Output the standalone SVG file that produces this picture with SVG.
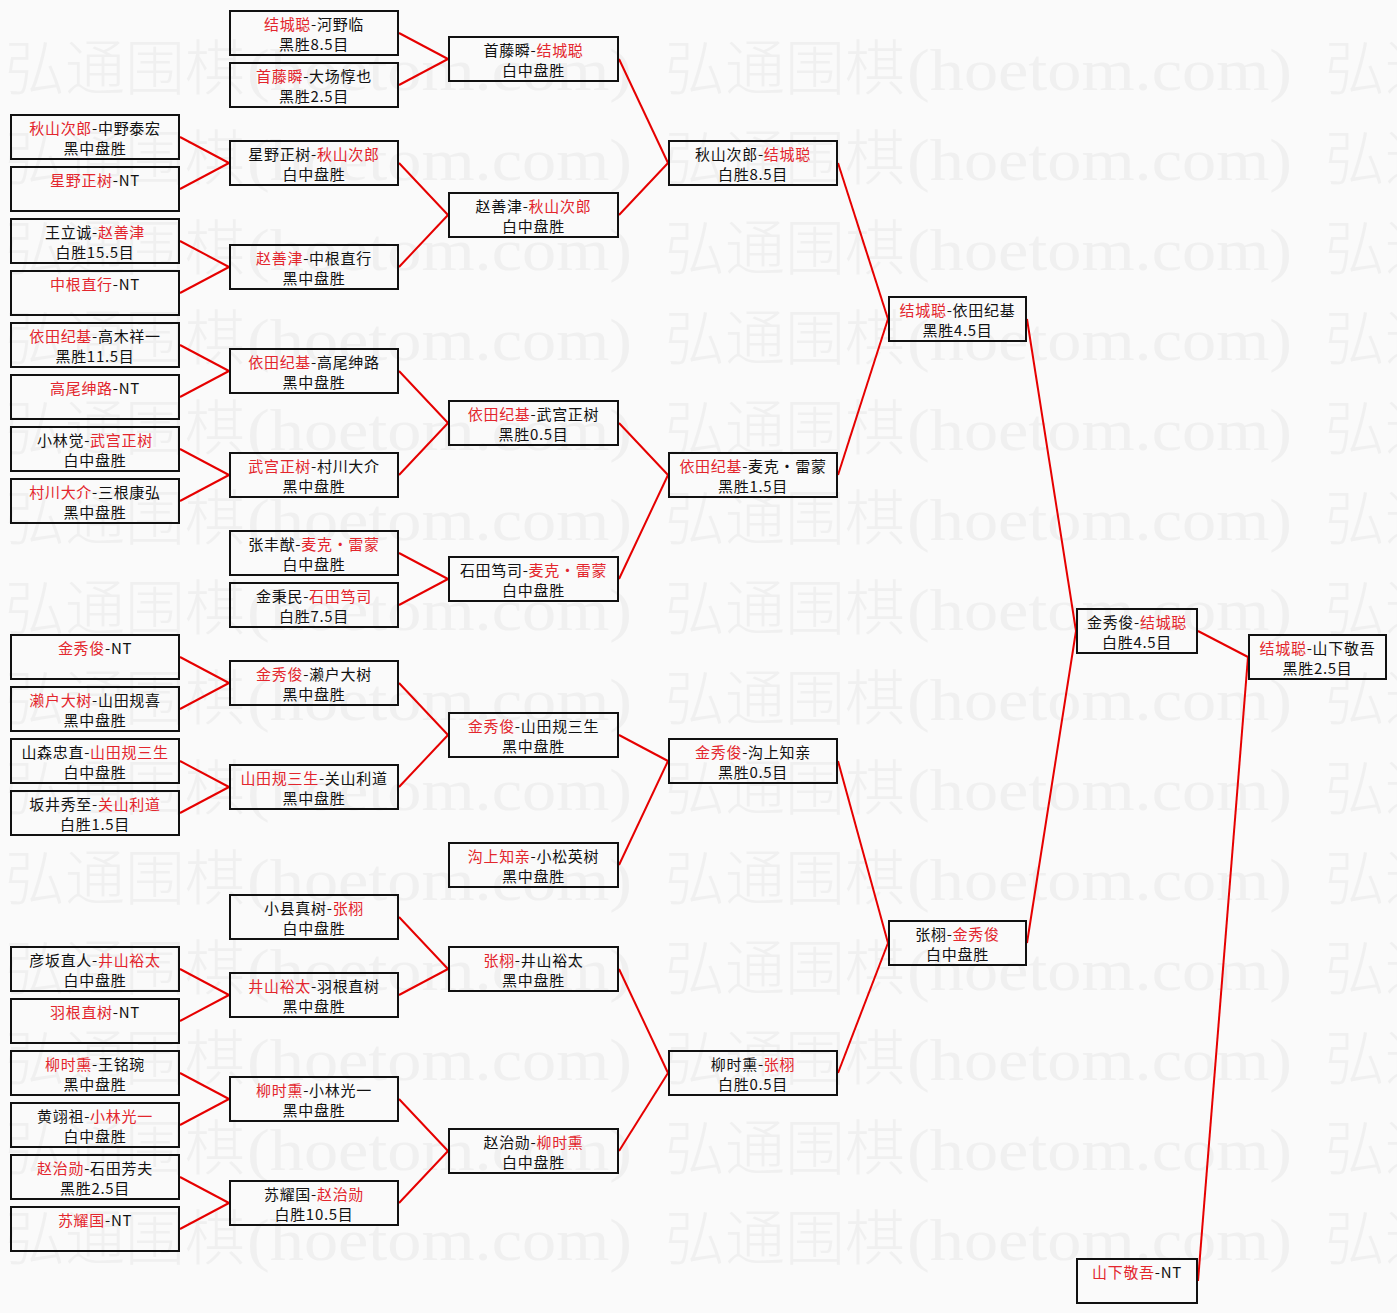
<svg xmlns="http://www.w3.org/2000/svg" width="1397" height="1313" viewBox="0 0 1397 1313">
<style>
.bg{fill:#fafafa}
.wmt{font-family:"Liberation Serif","Noto Sans CJK SC",serif;font-size:60px;font-weight:300;fill:#f0f0f0}
.box{fill:none;stroke:#111;stroke-width:2}
.t{font-family:"Noto Sans CJK SC","Noto Sans",sans-serif;font-size:15px;letter-spacing:0.7px;fill:#111;text-anchor:middle}
.r{fill:#e3262d}
#connectors line{stroke:#e60000;stroke-width:2}
</style>
<defs>
<g id="wm"><text class="wmt" x="0" y="0">弘通围棋</text><text class="wmt" x="242" y="0" textLength="385" lengthAdjust="spacingAndGlyphs">(hoetom.com)</text></g>
</defs>
<rect class="bg" x="0" y="0" width="1397" height="1313"/>
<g id="watermark">
<use href="#wm" x="5" y="90"/><use href="#wm" x="665" y="90"/><use href="#wm" x="1325" y="90"/>
<use href="#wm" x="5" y="180"/><use href="#wm" x="665" y="180"/><use href="#wm" x="1325" y="180"/>
<use href="#wm" x="5" y="270"/><use href="#wm" x="665" y="270"/><use href="#wm" x="1325" y="270"/>
<use href="#wm" x="5" y="360"/><use href="#wm" x="665" y="360"/><use href="#wm" x="1325" y="360"/>
<use href="#wm" x="5" y="450"/><use href="#wm" x="665" y="450"/><use href="#wm" x="1325" y="450"/>
<use href="#wm" x="5" y="540"/><use href="#wm" x="665" y="540"/><use href="#wm" x="1325" y="540"/>
<use href="#wm" x="5" y="630"/><use href="#wm" x="665" y="630"/><use href="#wm" x="1325" y="630"/>
<use href="#wm" x="5" y="720"/><use href="#wm" x="665" y="720"/><use href="#wm" x="1325" y="720"/>
<use href="#wm" x="5" y="810"/><use href="#wm" x="665" y="810"/><use href="#wm" x="1325" y="810"/>
<use href="#wm" x="5" y="900"/><use href="#wm" x="665" y="900"/><use href="#wm" x="1325" y="900"/>
<use href="#wm" x="5" y="990"/><use href="#wm" x="665" y="990"/><use href="#wm" x="1325" y="990"/>
<use href="#wm" x="5" y="1080"/><use href="#wm" x="665" y="1080"/><use href="#wm" x="1325" y="1080"/>
<use href="#wm" x="5" y="1170"/><use href="#wm" x="665" y="1170"/><use href="#wm" x="1325" y="1170"/>
<use href="#wm" x="5" y="1260"/><use href="#wm" x="665" y="1260"/><use href="#wm" x="1325" y="1260"/>
</g>
<g id="connectors">
<line x1="399" y1="33" x2="448" y2="59"/>
<line x1="399" y1="85" x2="448" y2="59"/>
<line x1="180" y1="137" x2="229" y2="163"/>
<line x1="180" y1="189" x2="229" y2="163"/>
<line x1="180" y1="241" x2="229" y2="267"/>
<line x1="180" y1="293" x2="229" y2="267"/>
<line x1="399" y1="163" x2="448" y2="215"/>
<line x1="399" y1="267" x2="448" y2="215"/>
<line x1="619" y1="59" x2="668" y2="163"/>
<line x1="619" y1="215" x2="668" y2="163"/>
<line x1="180" y1="345" x2="229" y2="371"/>
<line x1="180" y1="397" x2="229" y2="371"/>
<line x1="180" y1="449" x2="229" y2="475"/>
<line x1="180" y1="501" x2="229" y2="475"/>
<line x1="399" y1="371" x2="448" y2="423"/>
<line x1="399" y1="475" x2="448" y2="423"/>
<line x1="399" y1="553" x2="448" y2="579"/>
<line x1="399" y1="605" x2="448" y2="579"/>
<line x1="619" y1="423" x2="668" y2="475"/>
<line x1="619" y1="579" x2="668" y2="475"/>
<line x1="838" y1="163" x2="888" y2="319"/>
<line x1="838" y1="475" x2="888" y2="319"/>
<line x1="180" y1="657" x2="229" y2="683"/>
<line x1="180" y1="709" x2="229" y2="683"/>
<line x1="180" y1="761" x2="229" y2="787"/>
<line x1="180" y1="813" x2="229" y2="787"/>
<line x1="399" y1="683" x2="448" y2="735"/>
<line x1="399" y1="787" x2="448" y2="735"/>
<line x1="619" y1="735" x2="668" y2="761"/>
<line x1="619" y1="865" x2="668" y2="761"/>
<line x1="180" y1="969" x2="229" y2="995"/>
<line x1="180" y1="1021" x2="229" y2="995"/>
<line x1="399" y1="917" x2="448" y2="969"/>
<line x1="399" y1="995" x2="448" y2="969"/>
<line x1="180" y1="1073" x2="229" y2="1099"/>
<line x1="180" y1="1125" x2="229" y2="1099"/>
<line x1="180" y1="1177" x2="229" y2="1203"/>
<line x1="180" y1="1229" x2="229" y2="1203"/>
<line x1="399" y1="1099" x2="448" y2="1151"/>
<line x1="399" y1="1203" x2="448" y2="1151"/>
<line x1="619" y1="969" x2="668" y2="1073"/>
<line x1="619" y1="1151" x2="668" y2="1073"/>
<line x1="838" y1="761" x2="888" y2="943"/>
<line x1="838" y1="1073" x2="888" y2="943"/>
<line x1="1027" y1="319" x2="1076" y2="631"/>
<line x1="1027" y1="943" x2="1076" y2="631"/>
<line x1="1198" y1="631" x2="1248" y2="657"/>
<line x1="1198" y1="1281" x2="1248" y2="657"/>
</g>
<!-- column 1 -->
<g id="n1a" transform="translate(10,114)"><rect class="box" x="1" y="1" width="168" height="44"/><text class="t" x="85" y="20"><tspan class="r">秋山次郎</tspan>-中野泰宏</text><text class="t" x="85" y="40">黑中盘胜</text></g>
<g id="n1b" transform="translate(10,166)"><rect class="box" x="1" y="1" width="168" height="44"/><text class="t" x="85" y="20"><tspan class="r">星野正树</tspan>-NT</text></g>
<g id="n1c" transform="translate(10,218)"><rect class="box" x="1" y="1" width="168" height="44"/><text class="t" x="85" y="20">王立诚-<tspan class="r">赵善津</tspan></text><text class="t" x="85" y="40">白胜15.5目</text></g>
<g id="n1d" transform="translate(10,270)"><rect class="box" x="1" y="1" width="168" height="44"/><text class="t" x="85" y="20"><tspan class="r">中根直行</tspan>-NT</text></g>
<g id="n1e" transform="translate(10,322)"><rect class="box" x="1" y="1" width="168" height="44"/><text class="t" x="85" y="20"><tspan class="r">依田纪基</tspan>-高木祥一</text><text class="t" x="85" y="40">黑胜11.5目</text></g>
<g id="n1f" transform="translate(10,374)"><rect class="box" x="1" y="1" width="168" height="44"/><text class="t" x="85" y="20"><tspan class="r">高尾绅路</tspan>-NT</text></g>
<g id="n1g" transform="translate(10,426)"><rect class="box" x="1" y="1" width="168" height="44"/><text class="t" x="85" y="20">小林觉-<tspan class="r">武宫正树</tspan></text><text class="t" x="85" y="40">白中盘胜</text></g>
<g id="n1h" transform="translate(10,478)"><rect class="box" x="1" y="1" width="168" height="44"/><text class="t" x="85" y="20"><tspan class="r">村川大介</tspan>-三根康弘</text><text class="t" x="85" y="40">黑中盘胜</text></g>
<g id="n1i" transform="translate(10,634)"><rect class="box" x="1" y="1" width="168" height="44"/><text class="t" x="85" y="20"><tspan class="r">金秀俊</tspan>-NT</text></g>
<g id="n1j" transform="translate(10,686)"><rect class="box" x="1" y="1" width="168" height="44"/><text class="t" x="85" y="20"><tspan class="r">濑户大树</tspan>-山田规喜</text><text class="t" x="85" y="40">黑中盘胜</text></g>
<g id="n1k" transform="translate(10,738)"><rect class="box" x="1" y="1" width="168" height="44"/><text class="t" x="85" y="20">山森忠直-<tspan class="r">山田规三生</tspan></text><text class="t" x="85" y="40">白中盘胜</text></g>
<g id="n1l" transform="translate(10,790)"><rect class="box" x="1" y="1" width="168" height="44"/><text class="t" x="85" y="20">坂井秀至-<tspan class="r">关山利道</tspan></text><text class="t" x="85" y="40">白胜1.5目</text></g>
<g id="n1m" transform="translate(10,946)"><rect class="box" x="1" y="1" width="168" height="44"/><text class="t" x="85" y="20">彦坂直人-<tspan class="r">井山裕太</tspan></text><text class="t" x="85" y="40">白中盘胜</text></g>
<g id="n1n" transform="translate(10,998)"><rect class="box" x="1" y="1" width="168" height="44"/><text class="t" x="85" y="20"><tspan class="r">羽根直树</tspan>-NT</text></g>
<g id="n1o" transform="translate(10,1050)"><rect class="box" x="1" y="1" width="168" height="44"/><text class="t" x="85" y="20"><tspan class="r">柳时熏</tspan>-王铭琬</text><text class="t" x="85" y="40">黑中盘胜</text></g>
<g id="n1p" transform="translate(10,1102)"><rect class="box" x="1" y="1" width="168" height="44"/><text class="t" x="85" y="20">黄翊祖-<tspan class="r">小林光一</tspan></text><text class="t" x="85" y="40">白中盘胜</text></g>
<g id="n1q" transform="translate(10,1154)"><rect class="box" x="1" y="1" width="168" height="44"/><text class="t" x="85" y="20"><tspan class="r">赵治勋</tspan>-石田芳夫</text><text class="t" x="85" y="40">黑胜2.5目</text></g>
<g id="n1r" transform="translate(10,1206)"><rect class="box" x="1" y="1" width="168" height="44"/><text class="t" x="85" y="20"><tspan class="r">苏耀国</tspan>-NT</text></g>
<!-- column 2 -->
<g id="n2a" transform="translate(229,10)"><rect class="box" x="1" y="1" width="168" height="44"/><text class="t" x="85" y="20"><tspan class="r">结城聪</tspan>-河野临</text><text class="t" x="85" y="40">黑胜8.5目</text></g>
<g id="n2b" transform="translate(229,62)"><rect class="box" x="1" y="1" width="168" height="44"/><text class="t" x="85" y="20"><tspan class="r">首藤瞬</tspan>-大场惇也</text><text class="t" x="85" y="40">黑胜2.5目</text></g>
<g id="n2c" transform="translate(229,140)"><rect class="box" x="1" y="1" width="168" height="44"/><text class="t" x="85" y="20">星野正树-<tspan class="r">秋山次郎</tspan></text><text class="t" x="85" y="40">白中盘胜</text></g>
<g id="n2d" transform="translate(229,244)"><rect class="box" x="1" y="1" width="168" height="44"/><text class="t" x="85" y="20"><tspan class="r">赵善津</tspan>-中根直行</text><text class="t" x="85" y="40">黑中盘胜</text></g>
<g id="n2e" transform="translate(229,348)"><rect class="box" x="1" y="1" width="168" height="44"/><text class="t" x="85" y="20"><tspan class="r">依田纪基</tspan>-高尾绅路</text><text class="t" x="85" y="40">黑中盘胜</text></g>
<g id="n2f" transform="translate(229,452)"><rect class="box" x="1" y="1" width="168" height="44"/><text class="t" x="85" y="20"><tspan class="r">武宫正树</tspan>-村川大介</text><text class="t" x="85" y="40">黑中盘胜</text></g>
<g id="n2g" transform="translate(229,530)"><rect class="box" x="1" y="1" width="168" height="44"/><text class="t" x="85" y="20">张丰猷-<tspan class="r">麦克・雷蒙</tspan></text><text class="t" x="85" y="40">白中盘胜</text></g>
<g id="n2h" transform="translate(229,582)"><rect class="box" x="1" y="1" width="168" height="44"/><text class="t" x="85" y="20">金秉民-<tspan class="r">石田笃司</tspan></text><text class="t" x="85" y="40">白胜7.5目</text></g>
<g id="n2i" transform="translate(229,660)"><rect class="box" x="1" y="1" width="168" height="44"/><text class="t" x="85" y="20"><tspan class="r">金秀俊</tspan>-濑户大树</text><text class="t" x="85" y="40">黑中盘胜</text></g>
<g id="n2j" transform="translate(229,764)"><rect class="box" x="1" y="1" width="168" height="44"/><text class="t" x="85" y="20"><tspan class="r">山田规三生</tspan>-关山利道</text><text class="t" x="85" y="40">黑中盘胜</text></g>
<g id="n2k" transform="translate(229,894)"><rect class="box" x="1" y="1" width="168" height="44"/><text class="t" x="85" y="20">小县真树-<tspan class="r">张栩</tspan></text><text class="t" x="85" y="40">白中盘胜</text></g>
<g id="n2l" transform="translate(229,972)"><rect class="box" x="1" y="1" width="168" height="44"/><text class="t" x="85" y="20"><tspan class="r">井山裕太</tspan>-羽根直树</text><text class="t" x="85" y="40">黑中盘胜</text></g>
<g id="n2m" transform="translate(229,1076)"><rect class="box" x="1" y="1" width="168" height="44"/><text class="t" x="85" y="20"><tspan class="r">柳时熏</tspan>-小林光一</text><text class="t" x="85" y="40">黑中盘胜</text></g>
<g id="n2n" transform="translate(229,1180)"><rect class="box" x="1" y="1" width="168" height="44"/><text class="t" x="85" y="20">苏耀国-<tspan class="r">赵治勋</tspan></text><text class="t" x="85" y="40">白胜10.5目</text></g>
<!-- column 3 -->
<g id="n3a" transform="translate(448,36)"><rect class="box" x="1" y="1" width="169" height="44"/><text class="t" x="85.5" y="20">首藤瞬-<tspan class="r">结城聪</tspan></text><text class="t" x="85.5" y="40">白中盘胜</text></g>
<g id="n3b" transform="translate(448,192)"><rect class="box" x="1" y="1" width="169" height="44"/><text class="t" x="85.5" y="20">赵善津-<tspan class="r">秋山次郎</tspan></text><text class="t" x="85.5" y="40">白中盘胜</text></g>
<g id="n3c" transform="translate(448,400)"><rect class="box" x="1" y="1" width="169" height="44"/><text class="t" x="85.5" y="20"><tspan class="r">依田纪基</tspan>-武宫正树</text><text class="t" x="85.5" y="40">黑胜0.5目</text></g>
<g id="n3d" transform="translate(448,556)"><rect class="box" x="1" y="1" width="169" height="44"/><text class="t" x="85.5" y="20">石田笃司-<tspan class="r">麦克・雷蒙</tspan></text><text class="t" x="85.5" y="40">白中盘胜</text></g>
<g id="n3e" transform="translate(448,712)"><rect class="box" x="1" y="1" width="169" height="44"/><text class="t" x="85.5" y="20"><tspan class="r">金秀俊</tspan>-山田规三生</text><text class="t" x="85.5" y="40">黑中盘胜</text></g>
<g id="n3f" transform="translate(448,842)"><rect class="box" x="1" y="1" width="169" height="44"/><text class="t" x="85.5" y="20"><tspan class="r">沟上知亲</tspan>-小松英树</text><text class="t" x="85.5" y="40">黑中盘胜</text></g>
<g id="n3g" transform="translate(448,946)"><rect class="box" x="1" y="1" width="169" height="44"/><text class="t" x="85.5" y="20"><tspan class="r">张栩</tspan>-井山裕太</text><text class="t" x="85.5" y="40">黑中盘胜</text></g>
<g id="n3h" transform="translate(448,1128)"><rect class="box" x="1" y="1" width="169" height="44"/><text class="t" x="85.5" y="20">赵治勋-<tspan class="r">柳时熏</tspan></text><text class="t" x="85.5" y="40">白中盘胜</text></g>
<!-- column 4 -->
<g id="n4a" transform="translate(668,140)"><rect class="box" x="1" y="1" width="168" height="44"/><text class="t" x="85" y="20">秋山次郎-<tspan class="r">结城聪</tspan></text><text class="t" x="85" y="40">白胜8.5目</text></g>
<g id="n4b" transform="translate(668,452)"><rect class="box" x="1" y="1" width="168" height="44"/><text class="t" x="85" y="20"><tspan class="r">依田纪基</tspan>-麦克・雷蒙</text><text class="t" x="85" y="40">黑胜1.5目</text></g>
<g id="n4c" transform="translate(668,738)"><rect class="box" x="1" y="1" width="168" height="44"/><text class="t" x="85" y="20"><tspan class="r">金秀俊</tspan>-沟上知亲</text><text class="t" x="85" y="40">黑胜0.5目</text></g>
<g id="n4d" transform="translate(668,1050)"><rect class="box" x="1" y="1" width="168" height="44"/><text class="t" x="85" y="20">柳时熏-<tspan class="r">张栩</tspan></text><text class="t" x="85" y="40">白胜0.5目</text></g>
<!-- column 5 -->
<g id="n5a" transform="translate(888,296)"><rect class="box" x="1" y="1" width="137" height="44"/><text class="t" x="69.5" y="20"><tspan class="r">结城聪</tspan>-依田纪基</text><text class="t" x="69.5" y="40">黑胜4.5目</text></g>
<g id="n5b" transform="translate(888,920)"><rect class="box" x="1" y="1" width="137" height="44"/><text class="t" x="69.5" y="20">张栩-<tspan class="r">金秀俊</tspan></text><text class="t" x="69.5" y="40">白中盘胜</text></g>
<!-- column 6 -->
<g id="n6a" transform="translate(1076,608)"><rect class="box" x="1" y="1" width="120" height="44"/><text class="t" x="61" y="20">金秀俊-<tspan class="r">结城聪</tspan></text><text class="t" x="61" y="40">白胜4.5目</text></g>
<g id="n6b" transform="translate(1076,1258)"><rect class="box" x="1" y="1" width="120" height="44"/><text class="t" x="61" y="20"><tspan class="r">山下敬吾</tspan>-NT</text></g>
<!-- column 7 -->
<g id="n7a" transform="translate(1248,634)"><rect class="box" x="1" y="1" width="137" height="44"/><text class="t" x="69.5" y="20"><tspan class="r">结城聪</tspan>-山下敬吾</text><text class="t" x="69.5" y="40">黑胜2.5目</text></g>
</svg>
